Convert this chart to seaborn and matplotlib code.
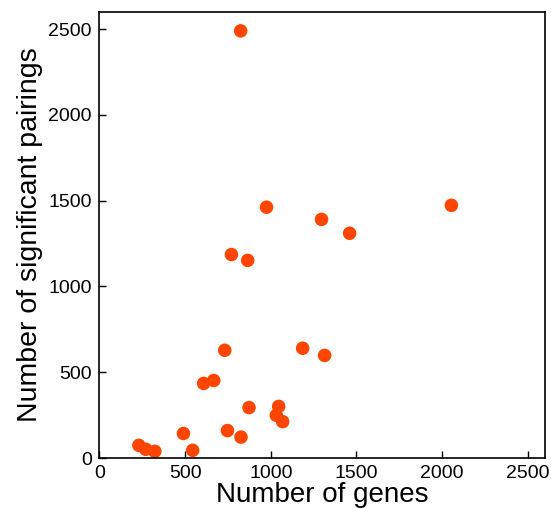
import matplotlib
matplotlib.use("Agg")
import matplotlib.pyplot as plt
import seaborn as sns
import pandas as pd

# Genes per module vs. number of significant pairings
n_genes = [824, 975, 2054, 1296, 1460, 770, 865, 731, 1186, 1314,
           608, 667, 873, 1046, 1032, 1069, 747, 826, 490, 544,
           230, 270, 323]
n_pairings = [2490, 1462, 1473, 1391, 1310, 1186, 1152, 628, 640, 598,
              435, 452, 294, 301, 249, 212, 160, 122, 143, 45,
              74, 51, 39]
x_ticks = [0, 500, 1000, 1500, 2000, 2500]
y_ticks = [0, 500, 1000, 1500, 2000, 2500]

df = pd.DataFrame({"genes": n_genes, "pairings": n_pairings})

sns.set_theme(style="ticks")
plt.rcParams["font.family"] = ["Liberation Sans", "DejaVu Sans"]
plt.rcParams["text.color"] = "black"
plt.rcParams["axes.labelcolor"] = "black"

fig = plt.figure(figsize=(5.51, 5.08), dpi=100)
ax = fig.add_axes([0.179, 0.0984, 0.810, 0.878])

sns.scatterplot(data=df, x="genes", y="pairings", ax=ax, s=95,
                color="#FF4500", edgecolor="none", linewidth=0)

ax.set_xlim(-5, 2600)
ax.set_ylim(0, 2600)
ax.set_xticks(x_ticks)
ax.set_yticks(y_ticks)
ax.tick_params(direction="in", length=5, width=1, labelsize=14, pad=5,
               colors="black")
for sp in ax.spines.values():
    sp.set_linewidth(1.2)
    sp.set_color("black")
    sp.set_visible(True)

ax.set_xlabel("Number of genes", fontsize=20, labelpad=0)
ax.set_ylabel("Number of significant pairings", fontsize=20.5, labelpad=4)

fig.savefig("out.png", dpi=100)
